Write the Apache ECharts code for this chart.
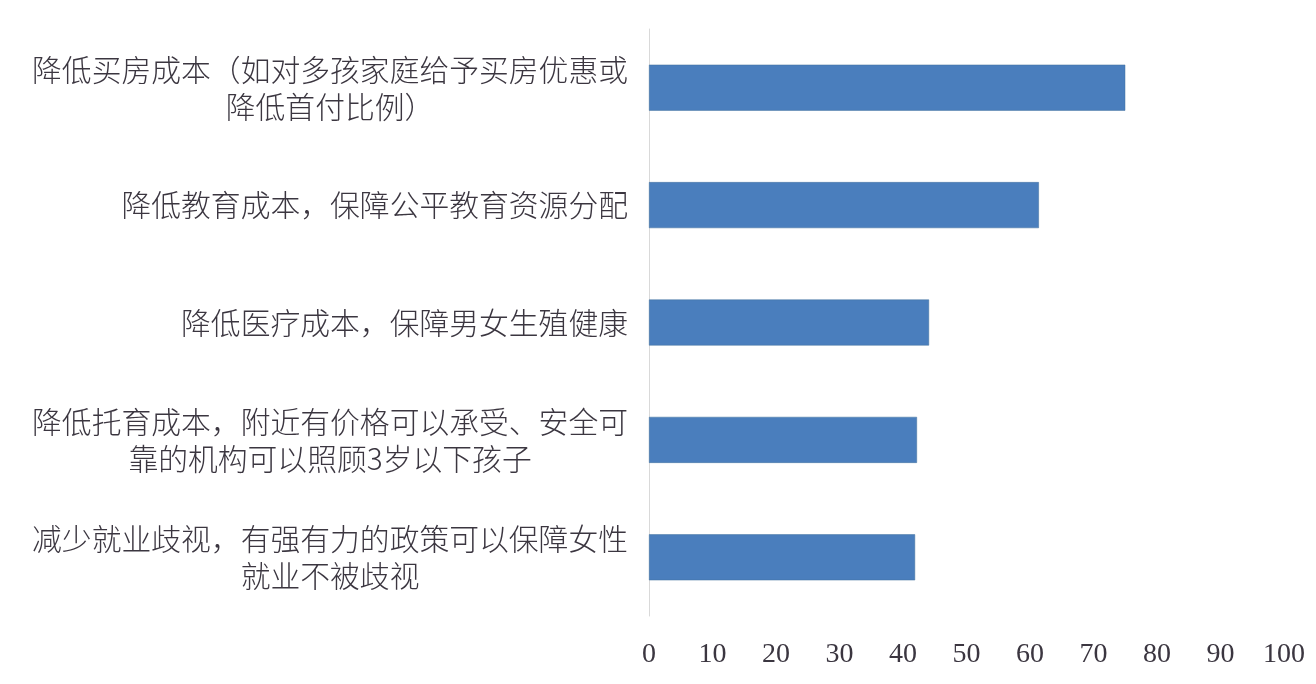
<!DOCTYPE html>
<html>
<head>
    <meta charset="utf-8">
    <title>生育支持政策期望</title>
    <script src="https://cdn.jsdelivr.net/npm/echarts@6/dist/echarts.min.js"></script>
    <style>
        html, body {
            margin: 0;
            padding: 0;
            background: #ffffff;
        }
        #chart {
            width: 1316px;
            height: 684px;
        }
    </style>
</head>
<body>
    <div id="chart"></div>

    <script>
        const categories = [
            '降低买房成本（如对多孩家庭给予买房优惠或\n降低首付比例）',
            '降低教育成本，保障公平教育资源分配',
            '降低医疗成本，保障男女生殖健康',
            '降低托育成本，附近有价格可以承受、安全可\n靠的机构可以照顾3岁以下孩子',
            '减少就业歧视，有强有力的政策可以保障女性\n就业不被歧视'
        ];
        const values = [75.0, 61.4, 44.1, 42.2, 41.9];
        const xTicks = [0, 100, 10];   // min, max, interval

        const cjkFont = '"Noto Sans CJK SC", "Noto Sans", sans-serif';
        const textColor = '#3b3640';

        const chart = echarts.init(document.getElementById('chart'));

        chart.setOption({
            backgroundColor: '#ffffff',
            animation: false,
            grid: {
                left: 649,
                right: 32,
                top: 29,
                bottom: 68,
                containLabel: false,
                outerBoundsMode: 'none'
            },
            xAxis: {
                type: 'value',
                min: xTicks[0],
                max: xTicks[1],
                interval: xTicks[2],
                axisLine: { show: false },
                axisTick: { show: false },
                splitLine: { show: false },
                axisLabel: {
                    margin: 25,
                    fontFamily: '"Liberation Serif", "DejaVu Serif", serif',
                    fontSize: 28,
                    color: textColor
                }
            },
            yAxis: {
                type: 'category',
                inverse: true,
                data: categories,
                axisLine: {
                    show: true,
                    lineStyle: { color: '#d9d9d9', width: 1 }
                },
                axisTick: { show: false },
                axisLabel: {
                    margin: 21,
                    fontFamily: cjkFont,
                    fontSize: 29.8,
                    fontWeight: 300,
                    color: textColor,
                    lineHeight: 37,
                    // second line sits centred under the first one
                    formatter: function (value) {
                        return value.split('\n').map(line => '{c|' + line + '}').join('\n');
                    },
                    rich: {
                        c: {
                            align: 'center',
                            fontFamily: cjkFont,
                            fontSize: 29.8,
                            fontWeight: 300,
                            color: textColor,
                            lineHeight: 37
                        }
                    }
                }
            },
            series: [
                {
                    type: 'bar',
                    data: values,
                    barWidth: 46,
                    itemStyle: {
                        color: '#4a7ebd',
                        borderColor: '#41719c',
                        borderWidth: 0.5
                    }
                }
            ]
        });
    </script>
</body>
</html>
